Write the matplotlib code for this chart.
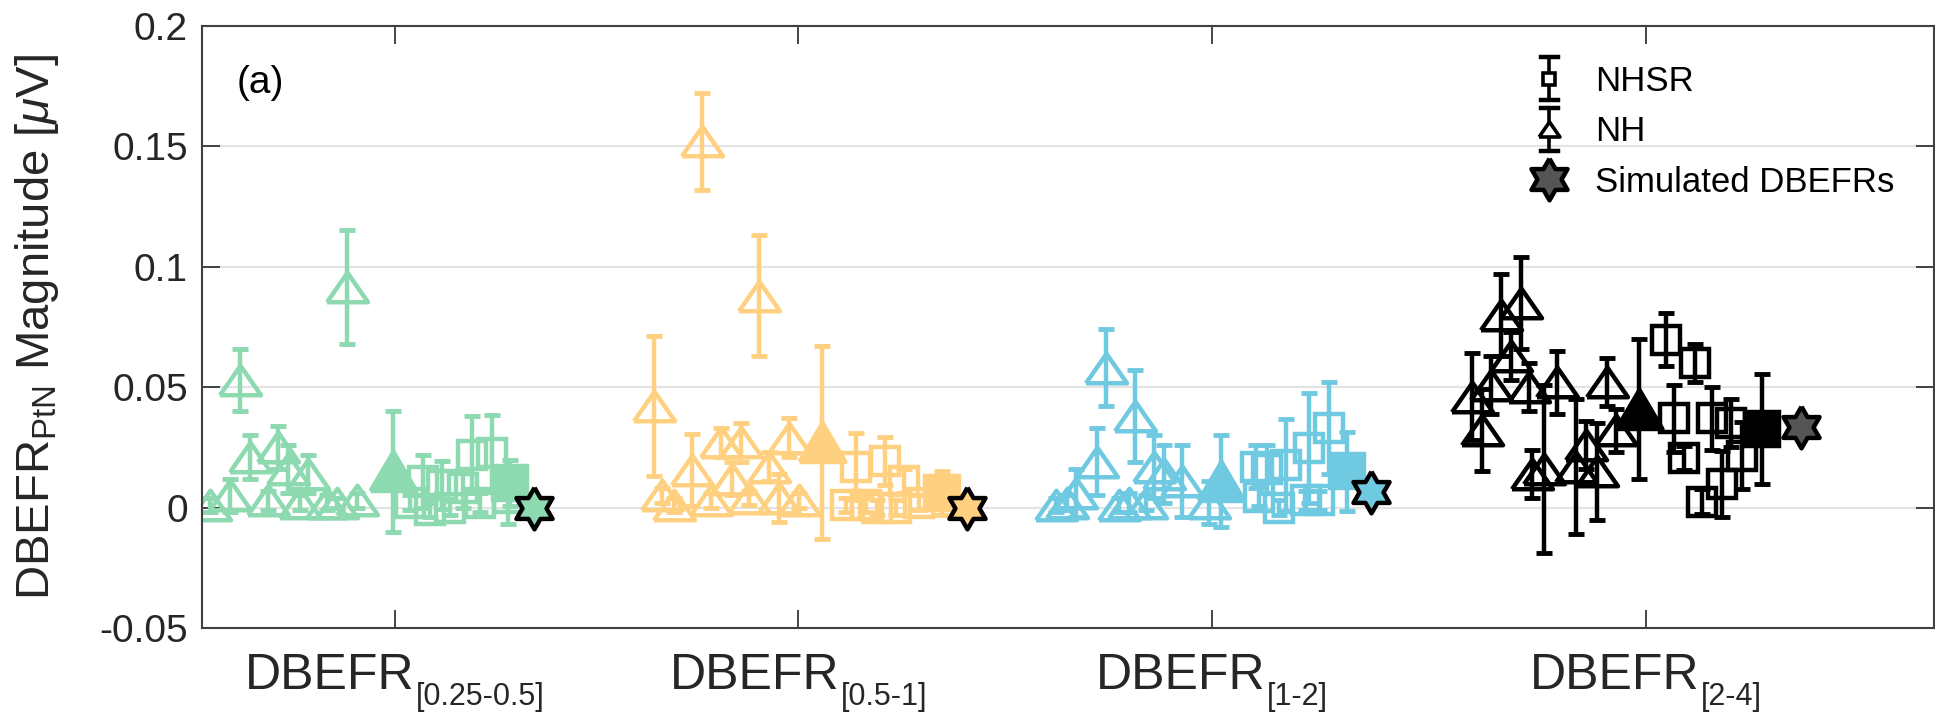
import matplotlib
matplotlib.use("Agg")
import numpy as np
import matplotlib.pyplot as plt
from matplotlib.lines import Line2D
from matplotlib.legend_handler import HandlerBase
from matplotlib.offsetbox import TextArea, HPacker, VPacker, DrawingArea, AnnotationBbox

plt.rcParams["font.family"] = ["Liberation Sans", "DejaVu Sans"]
plt.rcParams["mathtext.fontset"] = "custom"
plt.rcParams["mathtext.rm"] = "Liberation Sans"
plt.rcParams["mathtext.it"] = "Liberation Sans:italic"
plt.rcParams["axes.unicode_minus"] = False

# ── Data: x position, magnitude, error half-width ───────────────────────────
GROUP_SUBS = ["[0.25-0.5]", "[0.5-1]", "[1-2]", "[2-4]"]
GROUP_TICKS = [1.93, 5.97, 10.11, 14.45]
GROUP_COLORS = ["#8dd9b0", "#ffd07f", "#6fc9e0", "#000000"]

# NH subjects (open triangles)
nh_x = [
    [0.38, 1.45, 0.48, 0.76, 0.86, 1.06, 0.28, 0.66, 0.08, 0.98, 1.25, 1.35, 1.55],
    [5.01, 5.58, 4.53, 4.91, 5.20, 5.40, 5.88, 5.68, 5.31, 4.61, 4.73, 5.10, 5.48, 5.78, 5.98],
    [9.05, 9.34, 8.96, 9.53, 9.63, 9.81, 10.08, 8.55, 8.75, 9.18, 9.28, 9.45, 8.66],
    [13.00, 13.20, 13.10, 12.71, 12.90, 13.28, 13.56, 14.06, 12.81, 13.43, 13.75, 13.96,
     13.85, 14.15, 13.31],
]
nh_y = [
    [0.053, 0.0915, 0.021, 0.025, 0.016, 0.014, 0.005, 0.003, 0.001, 0.002, 0.002, 0.002, 0.003],
    [0.152, 0.088, 0.042, 0.0156, 0.027, 0.027, 0.029, 0.017, 0.012, 0.005, 0.001, 0.003,
     0.004, 0.004, 0.003],
    [0.058, 0.038, 0.019, 0.017, 0.014, 0.011, 0.002, 0.001, 0.006, 0.001, 0.002, 0.002, 0.002],
    [0.080, 0.085, 0.063, 0.046, 0.051, 0.050, 0.052, 0.052, 0.032, 0.016, 0.017, 0.015,
     0.026, 0.032, 0.014],
]
nh_err = [
    [0.013, 0.0235, 0.009, 0.009, 0.010, 0.008, 0.007, 0.004, 0.003, 0.003, 0.003, 0.002, 0.003],
    [0.020, 0.025, 0.029, 0.015, 0.006, 0.008, 0.008, 0.006, 0.007, 0.003, 0.003, 0.003,
     0.003, 0.010, 0.003],
    [0.016, 0.019, 0.014, 0.013, 0.012, 0.015, 0.009, 0.003, 0.010, 0.003, 0.004, 0.003, 0.003],
    [0.017, 0.019, 0.010, 0.018, 0.012, 0.010, 0.013, 0.010, 0.017, 0.035, 0.028, 0.020,
     0.010, 0.009, 0.010],
]

# NH group means (filled triangles)
nh_mean_x = [1.91, 6.21, 10.20, 14.38]
nh_mean_y = [0.015, 0.027, 0.011, 0.041]
nh_mean_err = [0.025, 0.040, 0.019, 0.029]

# NHSR subjects (open squares)
nhsr_x = [
    [2.08, 2.21, 2.28, 2.40, 2.48, 2.61, 2.70, 2.78, 2.90, 3.06],
    [6.45, 6.55, 6.65, 6.76, 6.84, 6.95, 7.03, 7.18],
    [10.55, 10.58, 10.66, 10.78, 10.85, 11.05, 11.08, 11.18, 11.28],
    [14.65, 14.94, 14.73, 15.11, 15.30, 14.83, 15.41, 15.21, 15.01],
]
nhsr_y = [
    [0.002, 0.011, -0.001, 0.0095, 0.000, 0.008, 0.022, 0.002, 0.0226, 0.004],
    [0.001, 0.017, 0.001, 0.000, 0.0193, 0.000, 0.011, 0.002],
    [0.017, 0.0045, 0.016, 0.000, 0.0177, 0.003, 0.0247, 0.003, 0.033],
    [0.0696, 0.060, 0.037, 0.037, 0.035, 0.0206, 0.0216, 0.0098, 0.0025],
]
nhsr_err = [
    [0.003, 0.011, 0.003, 0.010, 0.003, 0.008, 0.016, 0.004, 0.016, 0.011],
    [0.003, 0.014, 0.003, 0.003, 0.010, 0.003, 0.005, 0.003],
    [0.009, 0.004, 0.010, 0.003, 0.019, 0.004, 0.023, 0.004, 0.019],
    [0.011, 0.008, 0.014, 0.013, 0.010, 0.005, 0.014, 0.0138, 0.005],
]

# NHSR group means (filled squares)
nhsr_mean_x = [3.08, 7.41, 11.46, 15.61]
nhsr_mean_y = [0.0102, 0.006, 0.015, 0.0326]
nhsr_mean_err = [0.0095, 0.009, 0.0165, 0.023]

# Simulated DBEFRs (hexagrams)
sim_x = [3.32, 7.66, 11.70, 16.00]
sim_y = [0.0, 0.0, 0.0064, 0.0336]
sim_face = ["#8dd9b0", "#ffd07f", "#6fc9e0", "#555555"]

YTICKS = [-0.05, 0, 0.05, 0.1, 0.15, 0.2]
YTICK_LABELS = ["-0.05", "0", "0.05", "0.1", "0.15", "0.2"]

# ── Marker shapes ────────────────────────────────────────────────────────────
TRI = [(-1, -0.72), (1, -0.72), (0, 0.72), (-1, -0.72)]
TRI_FILLED = [(-1, -0.85), (1, -0.85), (0, 0.85), (-1, -0.85)]
ang = np.deg2rad(90 + 30 * np.arange(12))
rad = np.where(np.arange(12) % 2 == 0, 1.0, 1 / np.sqrt(3))
HEXAGRAM = list(zip(rad * np.cos(ang), rad * np.sin(ang)))
HEXAGRAM.append(HEXAGRAM[0])

LW = 3.2
CAP = 5.8
INK = "#262626"


class ErrorGlyph(HandlerBase):
    """Legend entry: marker sitting on a capped vertical error bar."""

    def __init__(self, marker, ms):
        super().__init__()
        self.marker, self.ms = marker, ms

    def create_artists(self, legend, orig_handle, xdescent, ydescent,
                       width, height, fontsize, trans):
        cx = width / 2 - xdescent
        cy = height / 2 - ydescent
        half, cap = 15.5, 6
        arts = [Line2D([cx, cx], [cy - half, cy + half], color="black", lw=2.6),
                Line2D([cx - cap, cx + cap], [cy + half] * 2, color="black", lw=3.2),
                Line2D([cx - cap, cx + cap], [cy - half] * 2, color="black", lw=3.2),
                Line2D([cx], [cy], marker=self.marker, ms=self.ms, mfc="white",
                       mec="black", mew=2.6, ls="none")]
        for a in arts:
            a.set_transform(trans)
        return arts


fig = plt.figure(figsize=(19.35, 7.16), dpi=100)
ax = fig.add_axes([0.1042, 0.1229, 0.8953, 0.8412])

for g in range(4):
    c = GROUP_COLORS[g]
    for x, y, e in zip(nh_x[g], nh_y[g], nh_err[g]):
        ax.errorbar(x, y, yerr=e, fmt="none", ecolor=c, elinewidth=LW,
                    capsize=CAP, capthick=LW + 0.3)
        ax.plot(x, y, marker=TRI, ms=29.5, mfc="none", mec=c, mew=LW, ls="none")
    ax.errorbar(nh_mean_x[g], nh_mean_y[g], yerr=nh_mean_err[g], fmt="none",
                ecolor=c, elinewidth=LW, capsize=CAP, capthick=LW + 0.3)
    ax.plot(nh_mean_x[g], nh_mean_y[g], marker=TRI_FILLED, ms=33, mfc=c, mec=c,
            mew=LW, ls="none")
    for x, y, e in zip(nhsr_x[g], nhsr_y[g], nhsr_err[g]):
        ax.errorbar(x, y, yerr=e, fmt="none", ecolor=c, elinewidth=LW,
                    capsize=CAP, capthick=LW + 0.3)
        ax.plot(x, y, marker="s", ms=19.5, mfc="none", mec=c, mew=LW, ls="none")
    ax.errorbar(nhsr_mean_x[g], nhsr_mean_y[g], yerr=nhsr_mean_err[g], fmt="none",
                ecolor=c, elinewidth=LW, capsize=CAP, capthick=LW + 0.3)
    ax.plot(nhsr_mean_x[g], nhsr_mean_y[g], marker="s", ms=24, mfc=c, mec=c,
            mew=LW, ls="none")
    ax.plot(sim_x[g], sim_y[g], marker=HEXAGRAM, ms=30, mfc=sim_face[g],
            mec="black", mew=LW, ls="none", zorder=5)

# legend
h_nhsr = Line2D([], [], label="NHSR")
h_nh = Line2D([], [], label="NH")
h_sim = Line2D([], [], marker=HEXAGRAM, ms=30, mfc="#555555", mec="black",
               mew=LW, ls="none", label="Simulated DBEFRs")
ax.legend(handles=[h_nhsr, h_nh, h_sim], loc="upper left",
          bbox_to_anchor=(0.762, 0.935), frameon=False, fontsize=25,
          handlelength=1.6, handletextpad=0.5, labelspacing=0.5,
          borderpad=0, borderaxespad=0,
          handler_map={h_nhsr: ErrorGlyph("s", 8), h_nh: ErrorGlyph(TRI, 15)})

ax.set_xlim(0, 17.33)
ax.set_ylim(-0.05, 0.2)
ax.set_yticks(YTICKS)
ax.set_yticklabels(YTICK_LABELS, fontsize=28)
ax.set_xticks(GROUP_TICKS)
ax.set_xticklabels([])
ax.tick_params(axis="both", direction="in", length=13, width=1.2,
               top=True, right=True, color=INK, labelcolor=INK)
ax.tick_params(axis="y", pad=10)
ax.yaxis.grid(True, color="#e3e3e3", lw=1.5)
ax.set_axisbelow(True)
for s in ax.spines.values():
    s.set_color("#404040")
    s.set_linewidth(1.5)

# category labels: DBEFR with a lowered band subscript
for tick, sub in zip(GROUP_TICKS, GROUP_SUBS):
    main = TextArea("DBEFR", textprops=dict(fontsize=36, color=INK))
    lifted = VPacker(children=[main, DrawingArea(1, 9)], pad=0, sep=0)
    small = TextArea(sub, textprops=dict(fontsize=22, color=INK))
    label = HPacker(children=[lifted, small], pad=0, sep=1, align="bottom")
    ab = AnnotationBbox(label, (tick, 0), xycoords=ax.get_xaxis_transform(),
                        box_alignment=(0.5, 1), xybox=(0, -18),
                        boxcoords="offset points", frameon=False, pad=0,
                        annotation_clip=False)
    ax.add_artist(ab)

ax.text(0.02, 0.905, "(a)", transform=ax.transAxes, fontsize=28,
        va="center", ha="left")
fig.text(0.019, 0.544, r"DBEFR$_{\mathrm{PtN}}$ Magnitude [$\mathit{\mu}$V]",
         rotation=90, fontsize=34, ha="center", va="center", color=INK)

fig.savefig("out.png", dpi=100)
